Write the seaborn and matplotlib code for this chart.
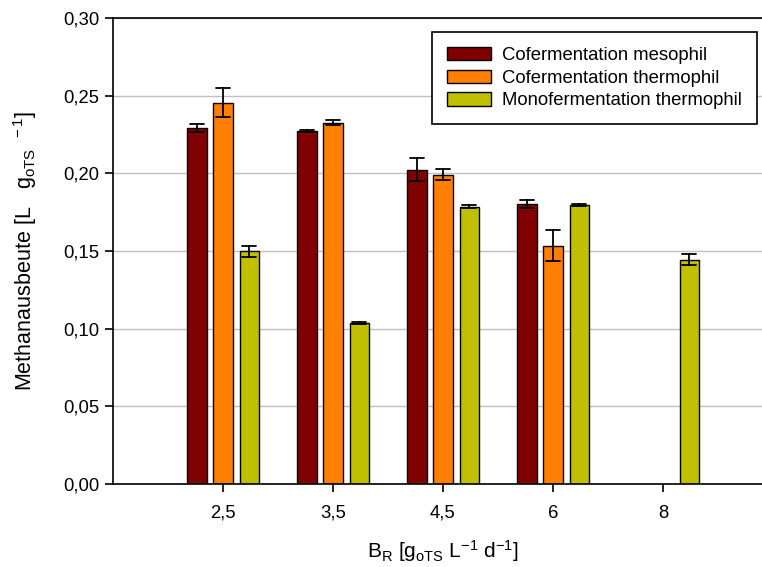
import numpy as np
import pandas as pd
import matplotlib
matplotlib.use("Agg")
import matplotlib.pyplot as plt
import seaborn as sns

# Raumbelastung (x categories)
loading = ["2,5", "3,5", "4,5", "6", "8"]
series = ["Cofermentation mesophil", "Cofermentation thermophil", "Monofermentation thermophil"]

# Methane yield means and error half-widths, NaN = no measurement
meso_mean = [0.2294, 0.2274, 0.2023, 0.1804, np.nan]
meso_err = [0.0025, 0.0005, 0.0075, 0.0025, np.nan]
thermo_mean = [0.2455, 0.2326, 0.1991, 0.1534, np.nan]
thermo_err = [0.0095, 0.0018, 0.0035, 0.0100, np.nan]
mono_mean = [0.1498, 0.1037, 0.1785, 0.1795, 0.1443]
mono_err = [0.0037, 0.0004, 0.0008, 0.0008, 0.0035]

colors = ["#800000", "#FF8000", "#C0C000"]

# build long table: two rows per bar (mean-err, mean+err) so that a 100% interval gives the error bar
rows = []
for name, means, errs in zip(series, [meso_mean, thermo_mean, mono_mean], [meso_err, thermo_err, mono_err]):
    for x, m, e in zip(loading, means, errs):
        if np.isnan(m):
            continue
        rows.append((x, name, m - e))
        rows.append((x, name, m + e))
df = pd.DataFrame(rows, columns=["BR", "Serie", "Ertrag"])

sns.set_style("ticks")
plt.rcParams["font.family"] = ["Liberation Sans", "DejaVu Sans"]
plt.rcParams["mathtext.fontset"] = "custom"
plt.rcParams["mathtext.rm"] = "Liberation Sans"
plt.rcParams["mathtext.it"] = "Liberation Sans"
plt.rcParams["text.color"] = "black"
plt.rcParams["axes.labelcolor"] = "black"

fig = plt.figure(figsize=(7.62, 5.67), dpi=100)
ax = fig.add_axes([113 / 762, 83 / 567, 660 / 762, 466 / 567])

sns.barplot(data=df, x="BR", y="Ertrag", hue="Serie", order=loading, hue_order=series,
            palette=colors, estimator="mean", errorbar=("pi", 100), width=0.72, gap=0.25,
            capsize=0.38, err_kws={"color": "black", "linewidth": 1.3},
            edgecolor="black", linewidth=1.0, saturation=1, ax=ax)

ax.set_xlim(-1, 5)
ax.set_ylim(0, 0.30)
ax.set_yticks(np.arange(0, 0.301, 0.05))
ax.set_yticklabels([f"{v:.2f}".replace(".", ",") for v in np.arange(0, 0.301, 0.05)])
ax.yaxis.grid(True, color="#c0c0c0", linewidth=1.0)
ax.set_axisbelow(True)
ax.tick_params(axis="both", labelsize=13.3, direction="out", length=6, width=1.2, colors="black")
ax.tick_params(axis="x", pad=9)
ax.tick_params(axis="y", pad=4)
for side in ["left", "bottom", "top"]:
    ax.spines[side].set_color("black")
    ax.spines[side].set_linewidth(1.2)
ax.spines["right"].set_visible(False)

ax.set_xlabel(r"B$_\mathrm{R}$ [g$_\mathrm{oTS}$ L$^{-1}$ d$^{-1}$]", fontsize=15, labelpad=12)
ax.set_ylabel(r"Methanausbeute [L   g$_\mathrm{oTS}$$^{\ \ -1}$]", fontsize=15.5, labelpad=17)

leg = ax.legend(loc="upper right", bbox_to_anchor=(757 / 762, 1 - 32 / 567), bbox_transform=fig.transFigure,
                fontsize=13.3, frameon=True, fancybox=False, framealpha=1, edgecolor="black",
                handlelength=2.4, handleheight=0.75, handletextpad=0.6, labelspacing=0.3,
                borderpad=0.8, borderaxespad=0, title=None)
leg.get_frame().set_linewidth(1.2)

fig.savefig("out.png", dpi=100)
